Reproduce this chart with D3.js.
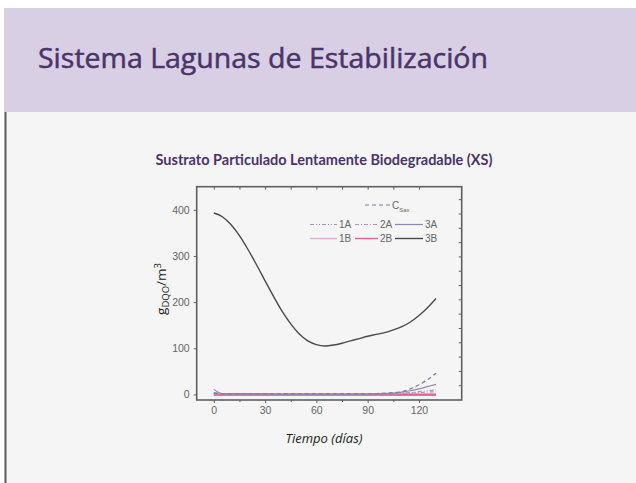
<!DOCTYPE html>
<html>
<head>
<meta charset="utf-8">
<script src="https://cdn.jsdelivr.net/npm/d3@7"></script>
<style>
  body { margin: 0; background: #ffffff; }
  svg { display: block; }
</style>
</head>
<body>
<div id="chart"></div>
<script>
// time grid (days)
const days = [0, 5, 10, 15, 20, 25, 30, 35, 40, 45, 50, 55, 60, 65, 70, 75, 80, 85, 90, 95, 100, 105, 110, 115, 120, 125, 130];

// series values, g DQO / m3
const s3B  = [393, 385, 368, 344, 314, 281, 246, 212, 180, 153, 131, 116, 108, 105, 107, 111, 116, 121, 126, 130, 134, 140, 147, 157, 171, 188, 208];
const sCsat = [3, 2, 2, 2, 2, 2, 2, 2, 2, 2, 2, 2, 2, 2, 2, 2, 2, 2, 2, 2, 3, 4, 6, 12, 21, 32, 46];
const s3A  = [11, 2, 2, 2, 2, 2, 2, 1, 1, 1, 1, 1, 1, 1, 1, 1, 1, 1, 1, 2, 2, 3, 5, 8, 12, 17, 22];
const s1A  = [4, 2, 2, 2, 2, 2, 2, 1, 1, 1, 1, 1, 1, 1, 1, 1, 1, 1, 1, 2, 2, 2, 3, 4, 6, 8, 10];
const s2A  = [2, 1, 1, 1, 1, 1, 1, 1, 1, 1, 1, 1, 1, 1, 1, 1, 1, 1, 1, 1, 1, 1, 2, 3, 4, 5, 6];
const s1B  = [0, 0, 0, 0, 0, 0, 0, 0, 0, 0, 0, 0, 0, 0, 0, 0, 0, 0, 0, 0, 0, 0, 0, 0, 0, 0, 0];
const s2B  = [-1, -1, -1, -1, -1, -1, -1, -1, -1, -1, -1, -1, -1, -1, -1, -1, -1, -1, -1, -1, -1, -1, -1, -1, -1, -1, -1];

const xTicks = [0, 30, 60, 90, 120];
const xMinorTicks = [15, 45, 75, 105];
const yTicks = [0, 100, 200, 300, 400];

const pageTitle = "Sistema Lagunas de Estabilización";
const chartTitle = "Sustrato Particulado Lentamente Biodegradable (XS)";
const xLabel = "Tiempo (días)";

const series = [
    { name: "1B", values: s1B, color: "#e2a6d4", width: 3, dash: null },
    { name: "2B", values: s2B, color: "#e0658f", width: 1.6, dash: null },
    { name: "2A", values: s2A, color: "#c98db5", width: 1.2, dash: "4,2,1,2" },
    { name: "1A", values: s1A, color: "#9f95bd", width: 1.2, dash: "4,2,1,2,1,2" },
    { name: "3A", values: s3A, color: "#8f85b4", width: 1.2, dash: null },
    { name: "Csat", values: sCsat, color: "#7f7f96", width: 1.2, dash: "4,3" },
    { name: "3B", values: s3B, color: "#4a4a4a", width: 1.4, dash: null }
];

const width = 636;
const height = 483;

const svg = d3.select("#chart")
    .append("svg")
        .attr("width", width)
        .attr("height", height);

// slide background
svg.append("rect")
    .attr("x", 0).attr("y", 0)
    .attr("width", width).attr("height", height)
    .attr("fill", "#ffffff");

svg.append("rect")
    .attr("x", 4).attr("y", 8)
    .attr("width", width - 4).attr("height", 104)
    .attr("fill", "#d8cfe5");

svg.append("rect")
    .attr("x", 4).attr("y", 112)
    .attr("width", width - 4).attr("height", height - 112)
    .attr("fill", "#f4f5f4");

svg.append("line")
    .attr("x1", 5.5).attr("y1", 112)
    .attr("x2", 5.5).attr("y2", height)
    .attr("stroke", "#5a5a5a")
    .attr("stroke-width", 2);

svg.append("text")
    .text(pageTitle)
    .attr("x", 38)
    .attr("y", 68)
    .attr("textLength", 450)
    .attr("lengthAdjust", "spacingAndGlyphs")
    .style("font-family", "'Open Sans', 'Noto Sans', sans-serif")
    .style("font-size", "27px")
    .style("fill", "#4b3469")
    .style("stroke", "#4b3469")
    .style("stroke-width", 0.5);

svg.append("text")
    .text(chartTitle)
    .attr("x", 324)
    .attr("y", 165)
    .attr("text-anchor", "middle")
    .style("font-family", "Lato, 'Open Sans', sans-serif")
    .style("font-weight", "bold")
    .style("font-size", "14.5px")
    .style("fill", "#4b3469");

// plot area
const pLeft = 196.7, pRight = 461.7, pTop = 186.7, pBottom = 400;

const x = d3.scaleLinear().domain([-10, 145]).range([pLeft, pRight]);
const y = d3.scaleLinear().domain([-12, 450]).range([pBottom, pTop]);

const axisColor = "#5f5f5f";
const labelFont = "'Liberation Sans', Arial, sans-serif";

function styleAxis(g) {
    g.select(".domain").remove();
    g.selectAll("line").attr("stroke", axisColor).attr("stroke-width", 1);
    g.selectAll("text")
        .style("font-family", labelFont)
        .style("font-size", "10.5px")
        .style("fill", "#666");
}

svg.append("g")
    .attr("transform", `translate(0 ${pBottom})`)
    .call(d3.axisBottom(x).tickValues(xTicks).tickSize(3).tickPadding(4).tickFormat(d3.format("d")))
    .call(styleAxis);

svg.append("g")
    .attr("transform", `translate(0 ${pBottom})`)
    .call(d3.axisBottom(x).tickValues(xMinorTicks).tickSize(2).tickFormat(""))
    .call(styleAxis);

svg.append("g")
    .attr("transform", `translate(0 ${pTop})`)
    .call(d3.axisTop(x).tickValues(d3.merge([xTicks, xMinorTicks])).tickSize(-3).tickFormat(""))
    .call(styleAxis);

svg.append("g")
    .attr("transform", `translate(${pLeft} 0)`)
    .call(d3.axisLeft(y).tickValues(yTicks).tickSize(3).tickPadding(4).tickFormat(d3.format("d")))
    .call(styleAxis);

svg.append("g")
    .attr("transform", `translate(${pRight} 0)`)
    .call(d3.axisRight(y).tickValues(d3.range(20, 450, 31)).tickSize(-3).tickFormat(""))
    .call(styleAxis);

svg.append("rect")
    .attr("x", pLeft).attr("y", pTop)
    .attr("width", pRight - pLeft).attr("height", pBottom - pTop)
    .attr("fill", "none")
    .attr("stroke", axisColor)
    .attr("stroke-width", 1.6);

// series lines
const line = d3.line()
    .x((d, i) => x(days[i]))
    .y(d => y(d))
    .curve(d3.curveMonotoneX);

svg.append("g")
    .selectAll("path")
    .data(series)
    .enter()
    .append("path")
        .attr("d", d => line(d.values))
        .attr("fill", "none")
        .attr("stroke", d => d.color)
        .attr("stroke-width", d => d.width)
        .attr("stroke-dasharray", d => d.dash);

// legend
const legend = svg.append("g")
    .style("font-family", labelFont)
    .style("font-size", "10px")
    .style("fill", "#666");

const legendItems = [
    { s: "1A", x: 310, y: 224.5 }, { s: "2A", x: 355, y: 224.5 }, { s: "3A", x: 395, y: 224.5 },
    { s: "1B", x: 310, y: 238.5 }, { s: "2B", x: 355, y: 238.5 }, { s: "3B", x: 395, y: 238.5 }
];
const lineLen = { "1A": 27, "2A": 23, "3A": 28, "1B": 27, "2B": 23, "3B": 28 };

legendItems.forEach(item => {
    const s = series.find(d => d.name === item.s);
    legend.append("line")
        .attr("x1", item.x).attr("x2", item.x + lineLen[item.s])
        .attr("y1", item.y).attr("y2", item.y)
        .attr("stroke", s.color)
        .attr("stroke-width", Math.min(s.width, 1.4))
        .attr("stroke-dasharray", s.dash);
    legend.append("text")
        .attr("x", item.x + lineLen[item.s] + 2)
        .attr("y", item.y + 3.8)
        .text(item.s);
});

const cs = series.find(d => d.name === "Csat");
legend.append("line")
    .attr("x1", 365).attr("x2", 390)
    .attr("y1", 205).attr("y2", 205)
    .attr("stroke", cs.color)
    .attr("stroke-width", 1.2)
    .attr("stroke-dasharray", cs.dash);
const ct = legend.append("text").attr("x", 392).attr("y", 208.5);
ct.append("tspan").text("C");
ct.append("tspan").attr("dy", 3).style("font-size", "6px").text("Sax");

// axis titles
svg.append("text")
    .attr("x", 324)
    .attr("y", 443)
    .attr("text-anchor", "middle")
    .style("font-family", "'Open Sans', Lato, sans-serif")
    .style("font-style", "italic")
    .style("font-size", "13px")
    .style("fill", "#222")
    .text(xLabel);

const yl = svg.append("text")
    .attr("transform", "translate(166 289) rotate(-90)")
    .attr("text-anchor", "middle")
    .style("font-family", "'Open Sans', Lato, sans-serif")
    .style("font-size", "13.5px")
    .style("fill", "#222");
yl.append("tspan").text("g");
yl.append("tspan").attr("dy", 3).style("font-size", "9.5px").text("DQO");
yl.append("tspan").attr("dy", -3).text("/m");
yl.append("tspan").attr("dy", -5.5).style("font-size", "9.5px").text("3");
</script>
</body>
</html>
